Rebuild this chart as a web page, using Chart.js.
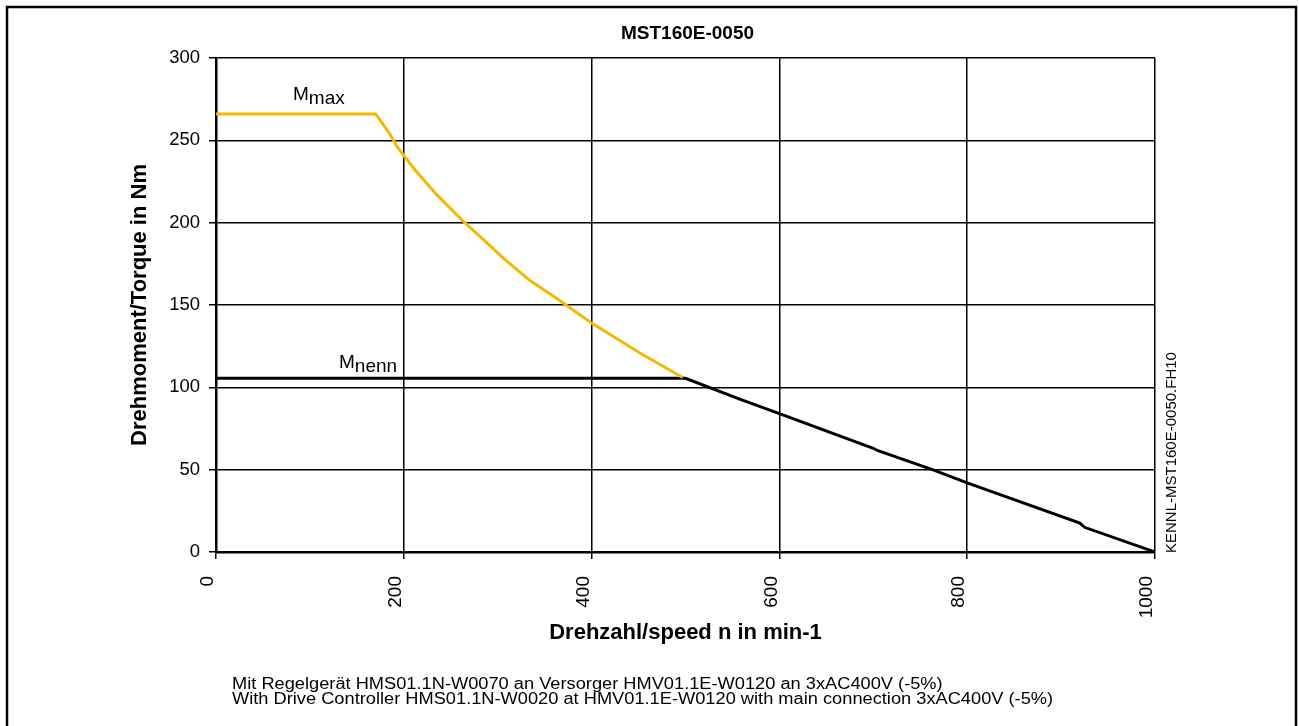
<!DOCTYPE html>
<html>
<head>
<meta charset="utf-8">
<script src="https://cdn.jsdelivr.net/npm/chart.js@4.4.1/dist/chart.umd.min.js"></script>
<style>
  html, body { margin: 0; padding: 0; background: #fff; }
  #wrap { width: 1299px; height: 726px; position: relative; }
  canvas { display: block; }
</style>
</head>
<body>
<div id="wrap"><canvas id="c" width="1299" height="726"></canvas></div>
<script>
// ---- data ----
const chartTitle = 'MST160E-0050';
const xTitle = 'Drehzahl/speed n in min-1';
const yTitle = 'Drehmoment/Torque in Nm';
const sideNote = 'KENNL-MST160E-0050.FH10';
const footLines = [
  'Mit Regelgerät HMS01.1N-W0070 an Versorger HMV01.1E-W0120 an 3xAC400V (-5%)',
  'With Drive Controller HMS01.1N-W0020 at HMV01.1E-W0120 with main connection 3xAC400V (-5%)'
];

// Mmax curve (yellow)
const speedMax  = [0, 170, 185, 193, 212, 235, 263, 288, 306, 334, 363, 400, 451, 497];
const torqueMax = [266, 266, 254, 246, 232, 217, 201, 188, 178.5, 165, 154, 139, 121, 106];

// Mnenn curve (black)
const speedNenn  = [0, 500, 557, 600, 700, 705, 763, 800, 920, 925, 1000];
const torqueNenn = [105.5, 105.5, 93, 84, 63, 61.5, 50, 42, 17.5, 15, 0];

// axis ranges / ticks
const xMin = 0, xMax = 1000, xStep = 200;
const yMin = 0, yMax = 300, yStep = 50;

// annotation labels: [main, subscript, speed, torque]
const curveLabels = [
  ['M', 'max', 82, 274.5],
  ['M', 'nenn', 131, 112]
];

const FONT = "'Liberation Sans', Arial, Helvetica, sans-serif";
const toXY = (xs, ys) => xs.map((x, i) => ({ x: x, y: ys[i] }));

const decor = {
  id: 'decor',
  afterDraw(chart) {
    const ctx = chart.ctx;
    const xs = chart.scales.x, ys = chart.scales.y;
    ctx.save();
    // outer frame
    ctx.strokeStyle = '#000';
    ctx.lineWidth = 2.5;
    ctx.strokeRect(7, 7, 1289, 740);

    ctx.fillStyle = '#000';
    // title
    ctx.font = 'bold 19px ' + FONT;
    ctx.textAlign = 'center';
    ctx.textBaseline = 'middle';
    ctx.fillText(chartTitle, (chart.chartArea.left + chart.chartArea.right) / 2 + 2, 34);

    // curve labels with subscripts
    ctx.textAlign = 'left';
    ctx.textBaseline = 'alphabetic';
    curveLabels.forEach(([m, sub, sx, ty]) => {
      const px = xs.getPixelForValue(sx), py = ys.getPixelForValue(ty);
      ctx.font = '19px ' + FONT;
      ctx.fillText(m, px, py);
      const w = ctx.measureText(m).width;
      ctx.fillText(sub, px + w, py + 4);
    });

    // side note
    ctx.save();
    ctx.translate(1172, 553);
    ctx.rotate(-Math.PI / 2);
    ctx.font = '15px ' + FONT;
    ctx.textAlign = 'left';
    ctx.textBaseline = 'middle';
    ctx.fillText(sideNote, 0, 0);
    ctx.restore();

    // footnote (slightly wide lettering, as in the reference)
    ctx.save();
    ctx.translate(232, 0);
    ctx.scale(1.14, 1);
    ctx.font = '16px ' + FONT;
    ctx.textAlign = 'left';
    ctx.textBaseline = 'alphabetic';
    footLines.forEach((t, i) => ctx.fillText(t, 0, 689 + i * 15));
    ctx.restore();
    ctx.restore();
  }
};

new Chart(document.getElementById('c'), {
  type: 'line',
  data: {
    datasets: [
      {
        label: 'Mmax',
        data: toXY(speedMax, torqueMax),
        borderColor: '#F5B800',
        borderWidth: 3,
        pointRadius: 0,
        tension: 0,
        fill: false
      },
      {
        label: 'Mnenn',
        data: toXY(speedNenn, torqueNenn),
        borderColor: '#000000',
        borderWidth: 3,
        pointRadius: 0,
        tension: 0,
        fill: false
      }
    ]
  },
  options: {
    responsive: false,
    animation: false,
    devicePixelRatio: 1,
    layout: { padding: { left: 0, top: 58, right: 144, bottom: 0 } },
    plugins: {
      legend: { display: false },
      tooltip: { enabled: false },
      title: { display: false }
    },
    scales: {
      x: {
        type: 'linear',
        min: xMin, max: xMax,
        afterFit(s) { s.height = 174; },
        ticks: {
          stepSize: xStep,
          minRotation: 90, maxRotation: 90,
          color: '#000',
          font: { family: FONT, size: 19 },
          padding: 17,
          labelOffset: -8,
          callback: (v) => String(v)
        },
        grid: { color: '#000', lineWidth: 1.5, tickLength: 7, drawOnChartArea: true },
        border: { color: '#000', width: 2.5 },
        title: {
          display: true, text: xTitle, color: '#000',
          font: { family: FONT, size: 22, weight: 'bold' },
          padding: { top: 0, bottom: 80 }
        }
      },
      y: {
        type: 'linear',
        min: yMin, max: yMax,
        afterFit(s) { s.width = 216; },
        ticks: {
          stepSize: yStep,
          color: '#000',
          font: { family: FONT, size: 18.5 },
          padding: 9,
          callback: (v) => String(v)
        },
        grid: { color: '#000', lineWidth: 1.5, tickLength: 7 },
        border: { color: '#000', width: 2.5 },
        title: {
          display: true, text: yTitle, color: '#000',
          font: { family: FONT, size: 22, weight: 'bold' },
          padding: { top: 127, bottom: 0 }
        }
      }
    }
  },
  plugins: [decor]
});
</script>
</body>
</html>
